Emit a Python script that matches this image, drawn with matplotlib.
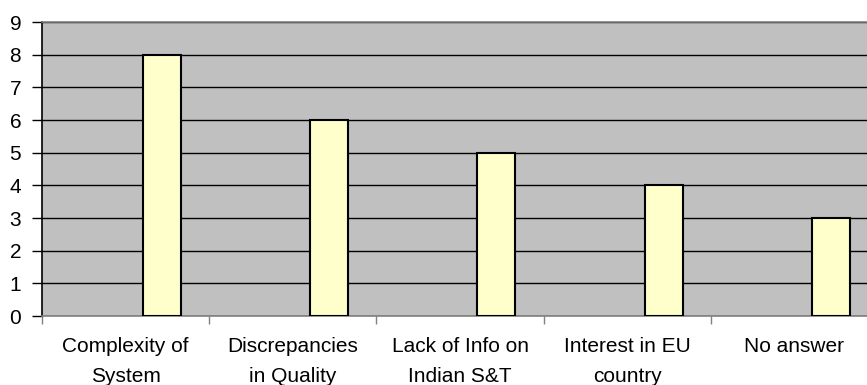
import matplotlib
matplotlib.use("Agg")
import matplotlib.pyplot as plt
import numpy as np

categories = ["Complexity of\nSystem", "Discrepancies\nin Quality", "Lack of Info on\nIndian S&T",
              "Interest in EU\ncountry", "No answer"]
values = [8, 6, 5, 4, 3]
y_ticks = list(range(0, 10))

plt.rcParams["font.family"] = ["Liberation Sans", "DejaVu Sans"]

W, H = 867, 385
fig = plt.figure(figsize=(W / 100, H / 100), dpi=100)
ax = fig.add_axes([42 / W, (H - 316) / H, 836 / W, 294 / H])
ax.set_facecolor("#C0C0C0")

x = np.arange(len(values))
bar_offset = 0.218
bar_width = 0.227
ax.bar(x + bar_offset, values, width=bar_width, color="#FFFFCC",
       edgecolor="black", linewidth=1.5, zorder=3)

ax.set_xlim(-0.5, len(values) - 0.5)
ax.set_ylim(0, 9)
ax.set_yticks(y_ticks)
ax.yaxis.grid(True, color="black", linewidth=1.0, zorder=1)
ax.set_axisbelow(True)

ax.set_xticks(x)
ax.set_xticklabels(categories, fontsize=15, linespacing=1.75)
ax.set_xticks(np.arange(-0.5, len(values)), minor=True)
ax.tick_params(axis="x", which="major", length=0, pad=15)
ax.tick_params(axis="x", which="minor", length=6, color="#808080", width=1)
ax.tick_params(axis="y", length=7, width=1, pad=8, labelsize=15, color="black")

ax.spines["right"].set_visible(False)
ax.spines["top"].set_color("#808080")
ax.spines["top"].set_linewidth(1.2)
ax.spines["left"].set_color("black")
ax.spines["left"].set_linewidth(1.2)
ax.spines["bottom"].set_color("#808080")
ax.spines["bottom"].set_linewidth(1.2)

fig.savefig("out.png", dpi=100)
